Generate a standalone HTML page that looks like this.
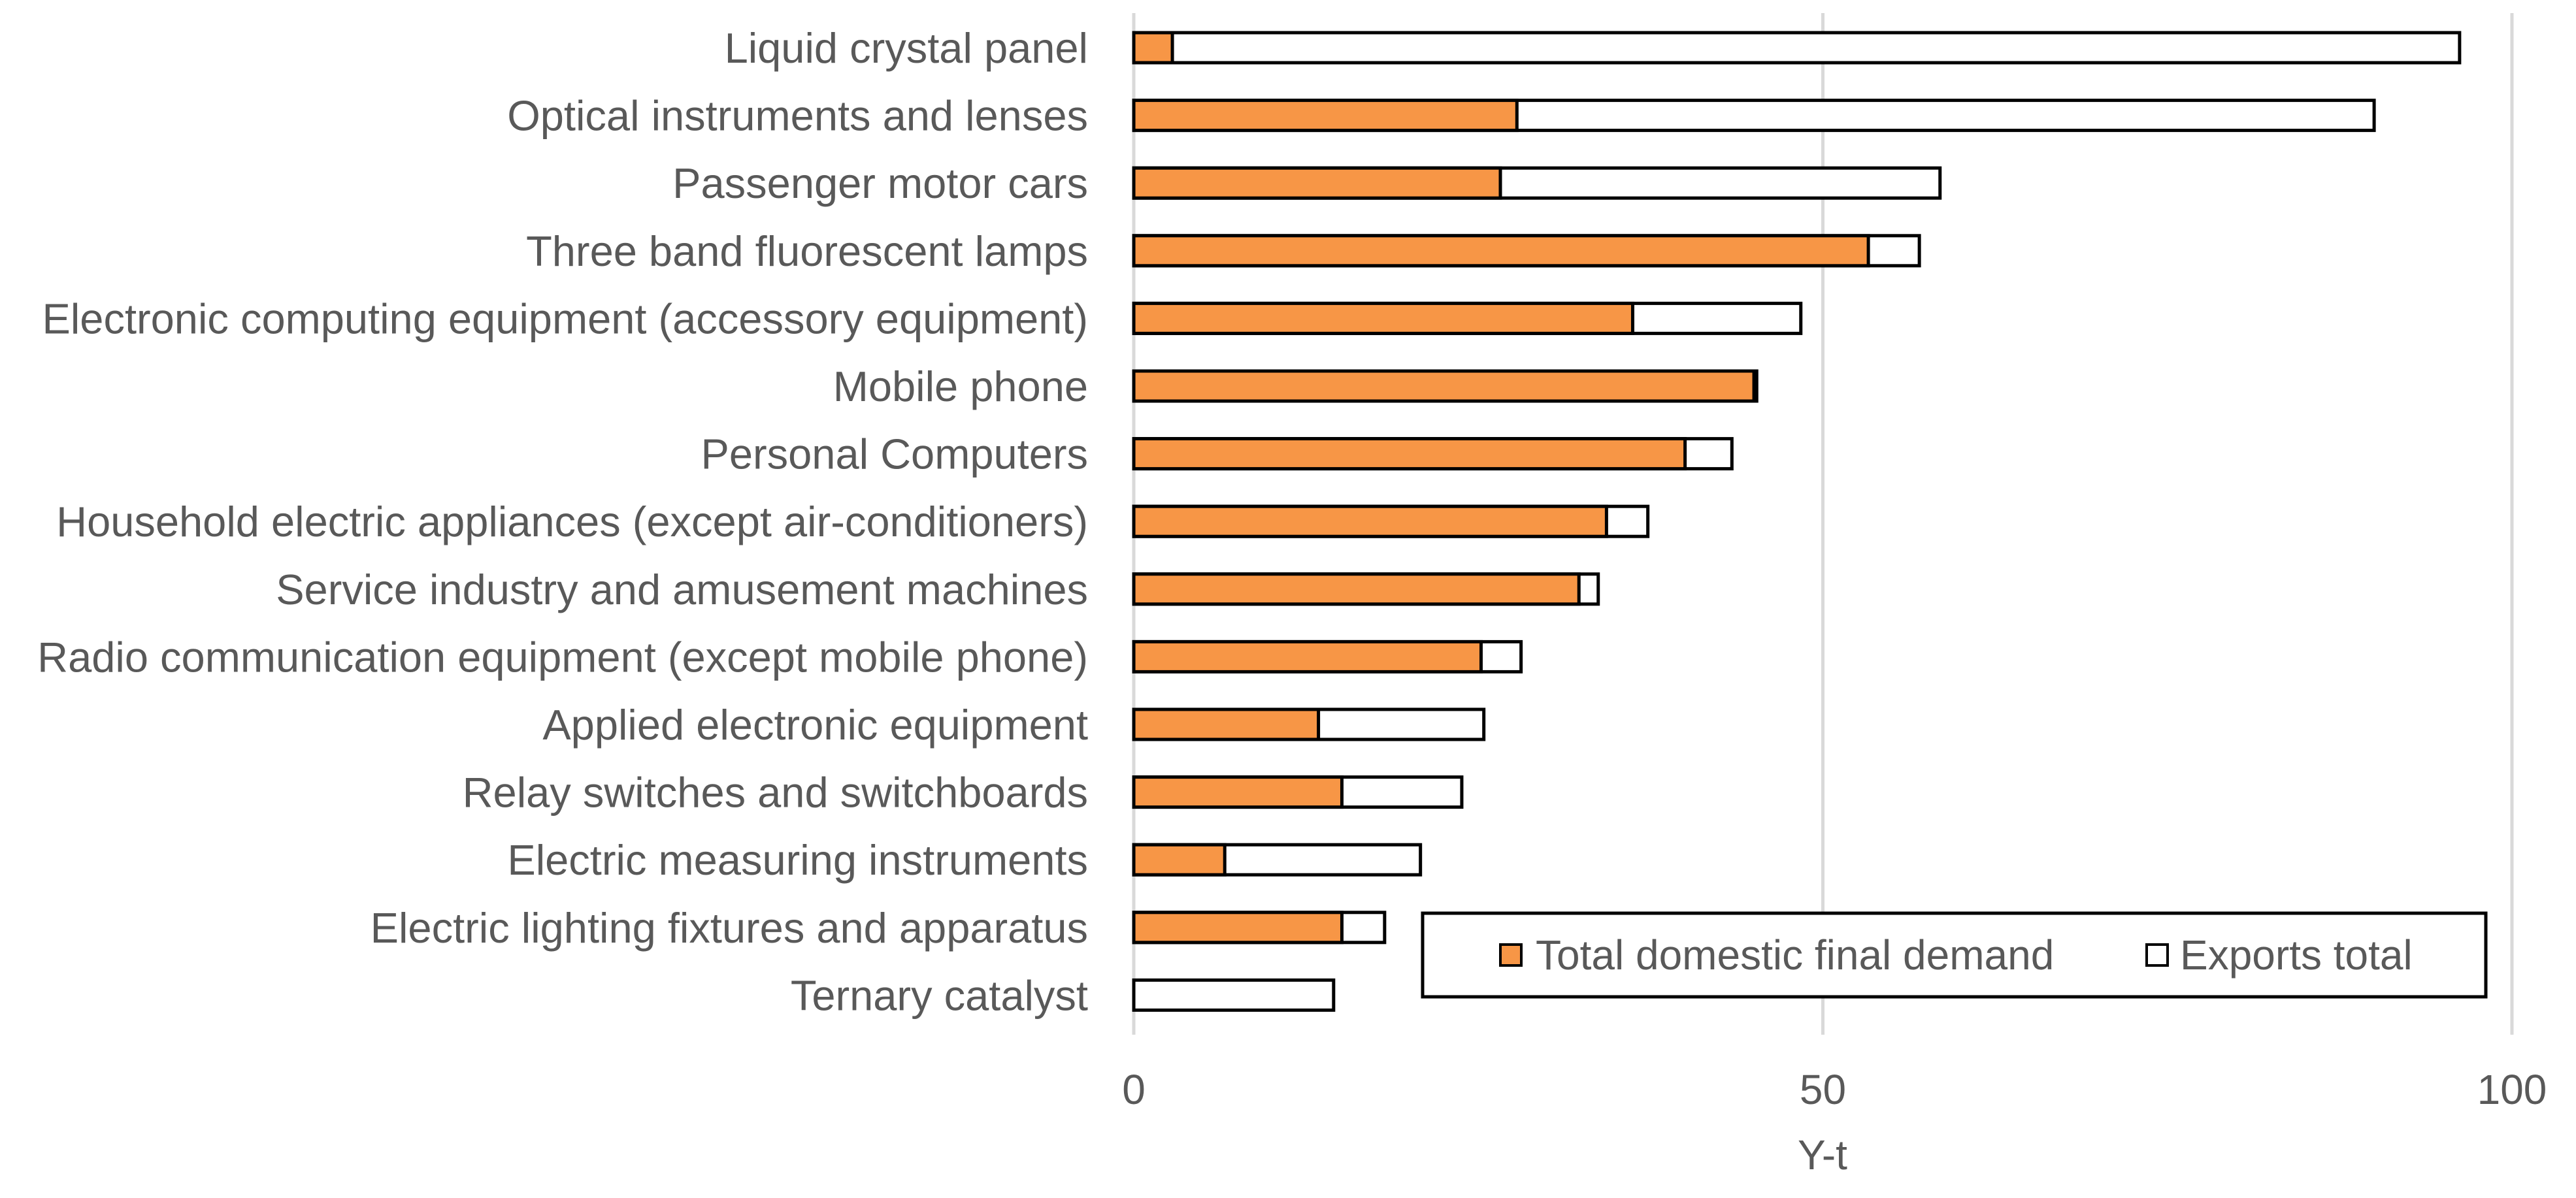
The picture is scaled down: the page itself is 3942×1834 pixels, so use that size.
<!DOCTYPE html>
<html><head><meta charset="utf-8"><style>
html,body{margin:0;padding:0;background:#fff;}
svg{display:block;font-family:"Liberation Sans",Arial,sans-serif;}
</style></head><body>
<svg id="chart" width="3942" height="1834" viewBox="0 0 3942 1834" xmlns="http://www.w3.org/2000/svg">
<g id="grid"></g>
<g id="bars"></g>
<g id="labels"></g>
<g id="ticks"></g>
<text x="2789" y="1790" font-size="64" fill="#595959" text-anchor="middle">Y-t</text>
<g>
<rect x="2177" y="1398" width="1627" height="128" fill="#fff" stroke="#000" stroke-width="5"/>
<rect x="2296" y="1446" width="32" height="32" fill="#F79646" stroke="#000" stroke-width="4"/>
<text x="2350" y="1484" font-size="64" fill="#595959">Total domestic final demand</text>
<rect x="3285" y="1446" width="32" height="32" fill="#fff" stroke="#000" stroke-width="4"/>
<text x="3336" y="1484" font-size="64" fill="#595959">Exports total</text>
</g>
</svg>
<script>
const categories = ["Liquid crystal panel","Optical instruments and lenses","Passenger motor cars","Three band fluorescent lamps","Electronic computing equipment (accessory equipment)","Mobile phone","Personal Computers","Household electric appliances (except air-conditioners)","Service industry and amusement machines","Radio communication equipment (except mobile phone)","Applied electronic equipment","Relay switches and switchboards","Electric measuring instruments","Electric lighting fixtures and apparatus","Ternary catalyst"];
const domestic = [2.8,27.8,26.6,53.3,36.2,45.0,40.0,34.3,32.3,25.2,13.4,15.1,6.6,15.1,0];
const exportsVals = [93.4,62.2,31.9,3.7,12.2,0.2,3.4,3.0,1.4,2.9,12.0,8.7,14.2,3.1,14.5];
const tickValues = [0,50,100];
const NS="http://www.w3.org/2000/svg";
const x0=1735,x1=3844,yTop=73,step=103.6,bh=46,plotTop=20,plotBottom=1584;
const xs=v=>x0+(x1-x0)*v/100;
const ys=i=>yTop+i*step;
function mk(t,a,p){const e=document.createElementNS(NS,t);for(const k in a)e.setAttribute(k,a[k]);p.appendChild(e);return e;}
const grid=document.getElementById('grid'),bars=document.getElementById('bars'),labels=document.getElementById('labels'),ticks=document.getElementById('ticks');
tickValues.forEach(v=>{
  const l=mk('line',{x1:xs(v),x2:xs(v),y1:plotTop,y2:plotBottom,stroke:'#d9d9d9','stroke-width':5},grid);
  
  
  const t=mk('text',{x:xs(v),y:1690,'font-size':64,fill:'#595959','text-anchor':'middle'},ticks);
  t.textContent=v;
  
  
});
categories.forEach((c,i)=>{
  const y=ys(i);
  const t=mk('text',{x:1665,y:y+23,'font-size':65,fill:'#595959','text-anchor':'end'},labels);
  t.textContent=c;
  
  
  const total=domestic[i]+exportsVals[i];
  const e=mk('rect',{x:xs(0),y:y-bh/2,width:xs(total)-xs(0),height:bh,fill:'#fff',stroke:'#000','stroke-width':5},bars);
  
  
  if(domestic[i]>0){
    const d=mk('rect',{x:xs(0),y:y-bh/2,width:xs(domestic[i])-xs(0),height:bh,fill:'#F79646',stroke:'#000','stroke-width':5},bars);
    
    
  }
});
</script>
</body></html>
